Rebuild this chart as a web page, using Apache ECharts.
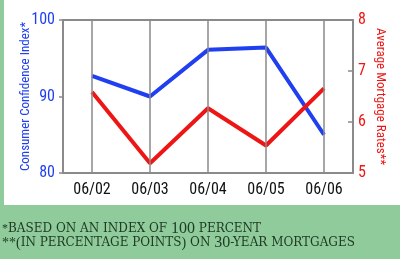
<!DOCTYPE html>
<html><head><meta charset="utf-8">
<script src="https://cdn.jsdelivr.net/npm/echarts@6/dist/echarts.min.js"></script>
<style>html,body{margin:0;padding:0;background:#90cb9b;}#c{width:400px;height:259px;}</style>
</head><body><div id="c"></div>
<script>
var categories = ['06/02','06/03','06/04','06/05','06/06'];
var confidence = [92.7, 90.0, 96.1, 96.4, 85.0];
var mortgage = [6.59, 5.19, 6.27, 5.54, 6.66];
var leftTicks = [80, 90, 100];
var rightTicks = [5, 6, 7, 8];

var blue = '#1f3ff0', red = '#ee1515', gray = '#8a8a8a';
var condensed = '"Roboto Condensed","DejaVu Sans Condensed",sans-serif';
var serif = '"Liberation Serif","DejaVu Serif",serif';
var wserif = '"DejaVu Serif","Liberation Serif",serif';
var ink = '#1d3a22';
var chart = echarts.init(document.getElementById('c'), null, {renderer:'canvas'});
chart.setOption({
  animation:false,
  backgroundColor:'#90cb9b',
  graphic:[
    {type:'rect', left:4, top:0, z:-10, shape:{width:396, height:205}, style:{fill:'#ffffff'}},
    {type:'text', left:2, top:221, style:{
      text:'{a|*}{s|BASED ON AN INDEX OF }{b|100}{s| PERCENT}',
      rich:{a:{fontSize:12,fontFamily:serif,fill:ink},s:{fontSize:12,fontFamily:wserif,fill:ink},b:{fontSize:16,fontFamily:serif,fill:ink}}
    }},
    {type:'text', left:2, top:235, style:{
      text:'{a|**(}{s|IN PERCENTAGE POINTS}{a|)}{s| ON }{b|30}{s|-YEAR MORTGAGES}',
      rich:{a:{fontSize:14,fontFamily:serif,fill:ink},s:{fontSize:12,fontFamily:wserif,fill:ink},b:{fontSize:16,fontFamily:serif,fill:ink}}
    }}
  ],
  grid:{left:63, right:47, top:20, bottom:86, show:true, borderColor:gray, borderWidth:2, backgroundColor:'transparent', outerBoundsMode:'none', containLabel:false},
  xAxis:{type:'category', data:categories, boundaryGap:true,
    axisLine:{lineStyle:{color:gray,width:2}}, axisTick:{show:false}, splitLine:{show:false},
    axisLabel:{color:'#111', fontSize:16, fontFamily:condensed, margin:9, interval:0}},
  yAxis:[
    {type:'value', min:80, max:100, interval:10, position:'left',
     name:'Consumer Confidence Index*', nameLocation:'middle', nameGap:31, nameMoveOverlap:false,
     nameTextStyle:{color:blue, fontSize:13, fontFamily:condensed},
     axisLine:{show:true, lineStyle:{color:gray,width:2}},
     axisTick:{show:true, length:4, lineStyle:{color:gray,width:1.5}},
     splitLine:{show:false},
     axisLabel:{color:blue, fontSize:16, fontFamily:condensed, margin:8}},
    {type:'value', min:5, max:8, interval:1, position:'right',
     name:'Average Mortgage Rates**', nameLocation:'middle', nameGap:21, nameRotate:-90, nameMoveOverlap:false,
     nameTextStyle:{color:red, fontSize:13, fontFamily:condensed},
     axisLine:{show:true, lineStyle:{color:gray,width:2}},
     axisTick:{show:true, inside:true, length:5, lineStyle:{color:gray,width:1.5}},
     splitLine:{show:false},
     axisLabel:{color:red, fontSize:16, fontFamily:condensed, margin:5}}
  ],
  series:[
    {type:'line', data:confidence, yAxisIndex:0, symbol:'none', lineStyle:{color:blue,width:4}, z:3,
     markLine:{silent:true, symbol:'none', label:{show:false}, animation:false,
       lineStyle:{color:gray, width:1.5, type:'solid'},
       data:categories.map(function(c){return {xAxis:c};})}},
    {type:'line', data:mortgage, yAxisIndex:1, symbol:'none', lineStyle:{color:red,width:4}, z:4}
  ]
});
</script></body></html>
